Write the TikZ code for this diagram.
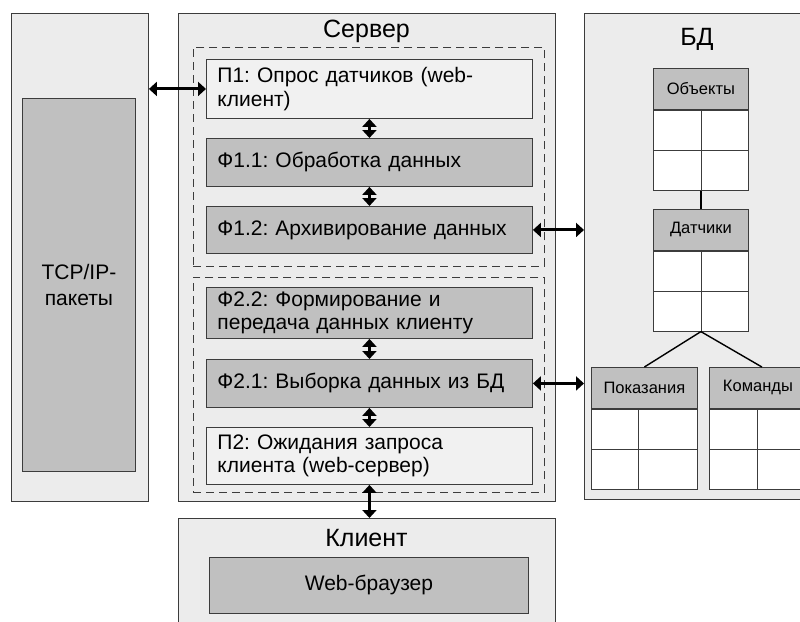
\documentclass[tikz,border=0pt]{standalone}
\usepackage{fontspec}
\setmainfont{Liberation Sans}
\usetikzlibrary{arrows.meta}
\frenchspacing

\definecolor{panel}{RGB}{236,236,236}
\definecolor{block}{RGB}{192,192,192}
\definecolor{pale}{RGB}{241,241,241}
\definecolor{edge}{RGB}{60,60,60}

% one database table: header cell with a 2x2 grid below it
% #1 name, #2 left, #3 top, #4 width, #5 column split, #6 label
\newcommand\dbtable[6]{%
  \node[tabhead, minimum width=#4] (#1) at (#2,#3) {#6};
  \node[tabbody, minimum width=#4] (#1-body) at (#1.south west) {};
  \draw[tabline] (#1-body.west) -- (#1-body.east);
  \draw[tabline] ([xshift=#5pt]#1-body.north west) -- ([xshift=#5pt]#1-body.south west);
}

\begin{document}
\begin{tikzpicture}[x=1pt,y=-1pt,
  panelbox/.style={draw=edge, fill=panel, line width=0.9pt, anchor=north west, inner sep=0pt},
  group/.style={draw=edge, line width=0.8pt, dash pattern=on 8pt off 5pt, anchor=north west, inner sep=0pt},
  stage/.style={draw=edge, line width=0.9pt, anchor=north west, inner xsep=11pt, inner ysep=0pt,
    text width=304pt, align=left, font=\fontsize{21}{23.5}\selectfont},
  procbox/.style={stage, fill=pale},
  funcbox/.style={stage, fill=block},
  title/.style={anchor=base, font=\fontsize{25}{28}\selectfont},
  tabhead/.style={draw=edge, fill=block, line width=0.8pt, anchor=north west, inner sep=0pt,
    minimum height=41pt, font=\fontsize{16.5}{19}\selectfont},
  tabbody/.style={draw=edge, fill=white, line width=0.8pt, anchor=north west, inner sep=0pt,
    minimum height=80pt},
  tabline/.style={draw=edge, line width=0.8pt},
  relation/.style={draw=black, line width=1.4pt},
  link/.style={line width=3pt, {Triangle[length=8pt,width=14pt]}-{Triangle[length=8pt,width=14pt]}}
]
\useasboundingbox (0,0) rectangle (800,621);
\fill[white] (0,0) rectangle (800,621);
\clip (0,0) rectangle (800,621);

% network side
\node[panelbox, minimum width=137pt, minimum height=488pt] (tcp) at (11,13) {};
\node[panelbox, fill=block, minimum width=113pt, minimum height=373pt, align=center,
  font=\fontsize{21}{26}\selectfont] (pkt) at (22,98) {TCP/IP-\\пакеты};

% server
\node[panelbox, minimum width=377pt, minimum height=488pt] (srv) at (178,13) {};
\node[title] (srvtitle) at (366.5,37) {Сервер};
\node[group, minimum width=351pt, minimum height=219pt] (grp1) at (193,47) {};
\node[group, minimum width=351pt, minimum height=215pt] (grp2) at (193,277) {};

\node[procbox, minimum height=59pt] (p1) at (206,59) {П1: Опрос датчиков (web-\\клиент)};
\node[funcbox, minimum height=48pt] (f11) at (206,138) {Ф1.1: Обработка данных};
\node[funcbox, minimum height=47pt] (f12) at (206,206) {Ф1.2: Архивирование данных};
\node[funcbox, minimum height=51pt] (f22) at (206,287) {Ф2.2: Формирование и\\передача данных клиенту};
\node[funcbox, minimum height=48pt] (f21) at (206,359) {Ф2.1: Выборка данных из БД};
\node[procbox, minimum height=57pt] (p2) at (206,427) {П2: Ожидания запроса\\клиента (web-сервер)};

% client
\node[panelbox, minimum width=377pt, minimum height=130pt] (cli) at (178,518) {};
\node[title] (clititle) at (366.5,546) {Клиент};
\node[panelbox, fill=block, minimum width=319pt, minimum height=56pt,
  font=\fontsize{21}{23.5}\selectfont] (web) at (209,557) {Web-браузер};

% database
\node[panelbox, minimum width=226pt, minimum height=486pt] (bd) at (584,13) {};
\node[title] (bdtitle) at (697,45) {БД};
\dbtable{obj}{653}{68}{95}{48}{Объекты}
\dbtable{sens}{653}{209}{95}{48}{Датчики}
\dbtable{read}{591}{367}{106}{47}{Показания}
\dbtable{cmd}{709}{367}{97}{48}{Команды}

\draw[relation] (obj-body.south) -- (sens.north);
\draw[relation] (sens-body.south) -- (read.north);
\draw[relation] (sens-body.south) -- ([xshift=4pt]cmd.north);

% data flows
\draw[link] (tcp.east |- p1.west) -- (p1.west);
\draw[link] (p1.south) -- (f11.north);
\draw[link] (f11.south) -- (f12.north);
\draw[link] (f22.south) -- (f21.north);
\draw[link] (f21.south) -- (p2.north);
\draw[link] (f12.east) -- (f12.east -| bd.west);
\draw[link] (f21.east) -- (f21.east -| bd.west);
\draw[link] (p2.south) -- (p2.south |- cli.north);
\end{tikzpicture}
\end{document}
